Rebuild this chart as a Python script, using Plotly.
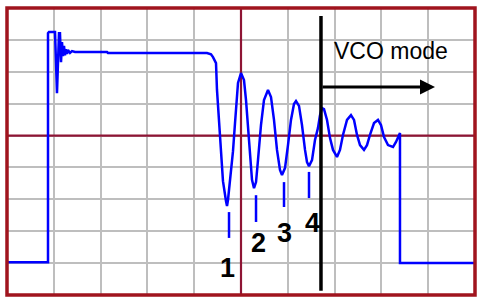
import plotly.graph_objects as go

# Waveform (time in divisions, amplitude in divisions)
time_div = [0, 0.876, 0.876, 0.897, 1.026, 1.047, 1.068, 1.090, 1.111, 1.132, 1.154, 1.175,
            1.197, 1.218, 1.239, 1.261, 1.282, 1.303, 1.346, 1.389, 1.453, 2.137, 2.158,
            4.274, 4.359, 4.402, 4.466, 4.487, 4.509, 4.551, 4.573, 4.594, 4.615, 4.679,
            4.701, 4.722, 4.765, 4.829, 4.872, 4.936, 5.000, 5.064, 5.107, 5.150, 5.192,
            5.235, 5.278, 5.321, 5.363, 5.427, 5.491, 5.577, 5.641, 5.705, 5.769, 5.833,
            5.876, 5.940, 6.004, 6.068, 6.132, 6.175, 6.239, 6.303, 6.368, 6.410, 6.453,
            6.517, 6.581, 6.645, 6.688, 6.731, 6.774, 6.838, 6.902, 6.966, 7.051, 7.115,
            7.179, 7.265, 7.350, 7.415, 7.479, 7.543, 7.628, 7.692, 7.756, 7.842, 7.927,
            7.991, 8.056, 8.141, 8.248, 8.312, 8.397, 8.397, 10.0]
volt_div = [1.03, 1.03, 8.21, 8.25, 8.25, 7.30, 6.33, 7.30, 8.21, 8.21, 7.30, 7.93,
            7.49, 7.81, 7.52, 7.71, 7.56, 7.68, 7.59, 7.65, 7.62, 7.62, 7.59,
            7.59, 7.55, 7.46, 7.27, 6.43, 5.89, 5.17, 4.51, 4.11, 3.57, 2.95,
            2.79, 2.98, 3.57, 4.51, 5.39, 6.65, 6.96, 6.74, 6.11, 5.17, 4.23,
            3.61, 3.35, 3.54, 4.23, 5.33, 6.11, 6.43, 6.21, 5.49, 4.55, 3.92,
            3.76, 3.98, 4.70, 5.49, 5.99, 6.08, 5.93, 5.33, 4.55, 4.17, 4.04,
            4.23, 4.86, 5.24, 5.64, 5.86, 5.83, 5.49, 4.92, 4.55, 4.33, 4.55,
            5.02, 5.49, 5.64, 5.49, 5.02, 4.70, 4.55, 4.70, 5.02, 5.39, 5.49,
            5.33, 4.95, 4.70, 4.64, 4.80, 5.08, 1.00, 1.00]

# Numbered minima markers
marker_labels = ["1", "2", "3", "4"]
marker_x = [4.744, 5.321, 5.919, 6.453]
marker_y_top = [2.60, 3.13, 3.54, 3.86]
marker_y_bot = [1.79, 2.29, 2.76, 3.04]
label_x = [4.701, 5.374, 5.940, 6.517]
label_y = [0.86, 1.63, 1.96, 2.27]

# VCO mode boundary
vco_x = 6.709
vco_y_top = 8.75
vco_y_bot = 0.13
arrow_y = 6.52
arrow_end_x = 9.145
vco_text = "VCO mode"
vco_text_x = 8.205
vco_text_y = 7.65

X_DIVS = 10
Y_DIVS = 9
CENTER_X = 5
CENTER_Y = 5

BLUE = "#0000FF"
GRID = "#BEBEBE"
MAROON = "#8E1434"
BORDER = "#A0141E"
FONT = "Liberation Sans, Arial, sans-serif"

fig = go.Figure()

# Center crosshair drawn as traces so they sit under the waveform but over the grid
fig.add_trace(go.Scatter(x=[CENTER_X, CENTER_X, None, 0, X_DIVS],
                         y=[0, Y_DIVS, None, CENTER_Y, CENTER_Y], mode="lines",
                         line=dict(color=MAROON, width=2.2), hoverinfo="skip",
                         showlegend=False))

fig.add_trace(go.Scatter(x=time_div, y=volt_div, mode="lines",
                         line=dict(color=BLUE, width=2.5), hoverinfo="skip",
                         showlegend=False))

mx, my = [], []
for xv, y0, y1 in zip(marker_x, marker_y_top, marker_y_bot):
    mx += [xv, xv, None]
    my += [y0, y1, None]
fig.add_trace(go.Scatter(x=mx, y=my, mode="lines",
                         line=dict(color=BLUE, width=2.5), hoverinfo="skip",
                         showlegend=False))

shapes = [
    dict(type="line", xref="x", yref="y", x0=vco_x, x1=vco_x, y0=vco_y_bot, y1=vco_y_top,
         line=dict(color="black", width=3.5)),
    dict(type="rect", xref="paper", yref="paper", x0=0, x1=1, y0=0, y1=1,
         line=dict(color=BORDER, width=3.5)),
]

annotations = [
    dict(x=arrow_end_x, y=arrow_y, ax=vco_x, ay=arrow_y, xref="x", yref="y",
         axref="x", ayref="y", text="", showarrow=True, arrowhead=2, arrowsize=1,
         arrowwidth=3, arrowcolor="black", standoff=0, startstandoff=0),
    dict(x=vco_text_x, y=vco_text_y, xref="x", yref="y", text=vco_text, showarrow=False,
         font=dict(family=FONT, size=23, color="black"), xanchor="center", yanchor="middle"),
]
for t, xv, yv in zip(marker_labels, label_x, label_y):
    annotations.append(dict(x=xv, y=yv, xref="x", yref="y", text="<b>" + t + "</b>",
                            showarrow=False, xanchor="center", yanchor="middle",
                            font=dict(family=FONT, size=27, color="black")))

fig.update_layout(
    width=486, height=303,
    margin=dict(l=7, r=11, t=8, b=8),
    paper_bgcolor="white", plot_bgcolor="white",
    shapes=shapes, annotations=annotations,
    xaxis=dict(range=[0, X_DIVS], dtick=1, tick0=0, showgrid=True, gridcolor=GRID,
               gridwidth=2, showticklabels=False, zeroline=False, ticks="",
               fixedrange=True),
    yaxis=dict(range=[0, Y_DIVS], dtick=1, tick0=0, showgrid=True, gridcolor=GRID,
               gridwidth=2, showticklabels=False, zeroline=False, ticks="",
               fixedrange=True),
)

fig.write_html("out.html", config={"displayModeBar": False})
